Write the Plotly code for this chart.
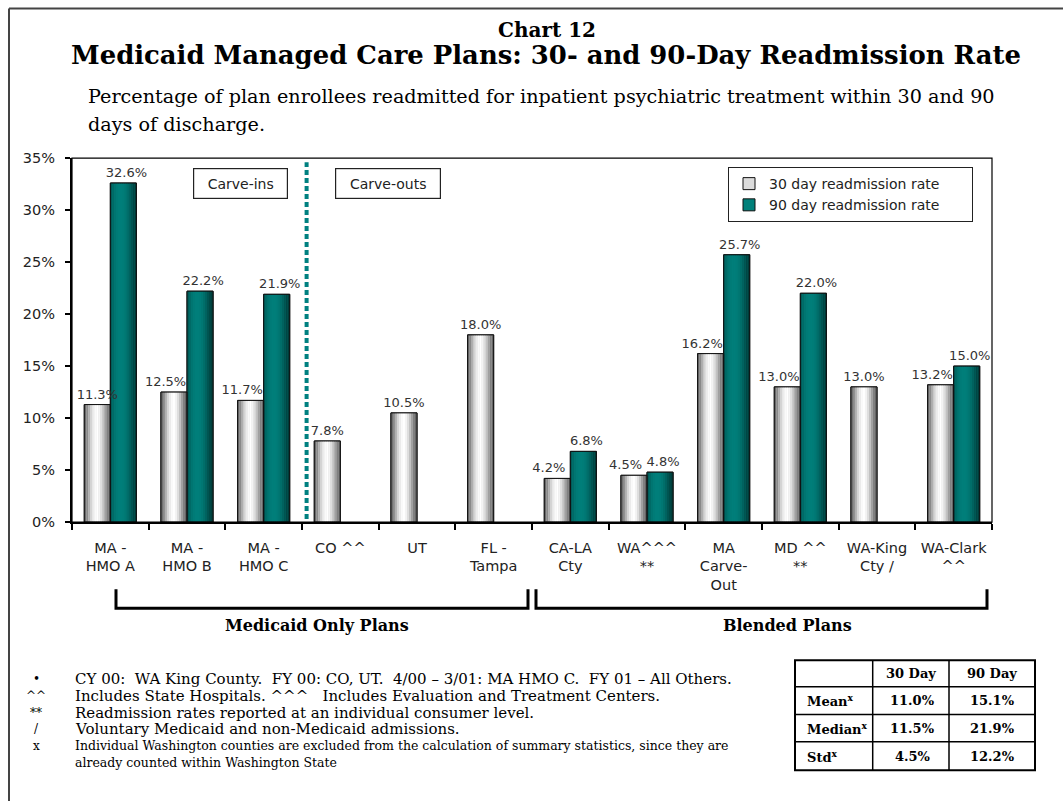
import plotly.graph_objects as go

# ---------------- data ----------------
categories = ["MA -<br>HMO A", "MA -<br>HMO B", "MA -<br>HMO C", "CO ^^", "UT",
              "FL -<br>Tampa", "CA-LA<br>Cty", "WA^^^<br>**", "MA<br>Carve-<br>Out",
              "MD ^^<br>**", "WA-King<br>Cty /", "WA-Clark<br>^^"]
rate_30 = [11.3, 12.5, 11.7, 7.8, 10.5, 18.0, 4.2, 4.5, 16.2, 13.0, 13.0, 13.2]
rate_90 = [32.6, 22.2, 21.9, None, None, None, 6.8, 4.8, 25.7, 22.0, None, 15.0]
series_names = ["30 day readmission rate", "90 day readmission rate"]
y_ticks = [0, 5, 10, 15, 20, 25, 30, 35]
y_tick_labels = ["0%", "5%", "10%", "15%", "20%", "25%", "30%", "35%"]

region_names = ["Carve-ins", "Carve-outs"]
group_names = ["Medicaid Only Plans", "Blended Plans"]

table_header = ["30 Day", "90 Day"]
stat_names = ["Mean", "Median", "Std"]
stat_30 = ["11.0%", "11.5%", "4.5%"]
stat_90 = ["15.1%", "21.9%", "12.2%"]

footnote_symbols = ["•", "^^", "**", "/", "x", ""]
footnote_texts = [
    "CY 00:\u00a0 WA King County.\u00a0 FY 00: CO, UT.\u00a0 4/00 – 3/01: MA HMO C.\u00a0 FY 01 – All Others.",
    "Includes State Hospitals. ^^^\u00a0\u00a0 Includes Evaluation and Treatment Centers.",
    "Readmission rates reported at an individual consumer level.",
    "Voluntary Medicaid and non-Medicaid admissions.",
    "Individual Washington counties are excluded from the calculation of summary statistics, since they are",
    "already counted within Washington State",
]

# ---------------- styles ----------------
W, H = 1063, 809
def px(x):
    return x / W
def py(y):
    # screen-pixel target -> paper fraction (the capture places the figure at 8..801)
    return 1 - ((y - 8) / 0.98) / H

SANS = "DejaVu Sans, Verdana, sans-serif"
SERIF = "DejaVu Serif, Georgia, serif"
NB = "\u00a0"

BW = 0.34
# label nudges (category units): 30-day labels move left where a 90-day bar sits beside them
nudge_30 = [-0.11 if (w is not None and i > 0) else 0.0 for i, w in enumerate(rate_90)]
nudge_90 = [0.04 for w in rate_90]

grad_30 = ["#6a6a6a", "#8a8a8a", "#b0b0b0", "#d4d4d4", "#ececec", "#fafafa", "#ffffff",
           "#f3f3f3", "#dedede", "#c2c2c2", "#a0a0a0", "#808080", "#666666"]
grad_90 = ["#005c59", "#006a66", "#007571", "#007b77", "#007e7a", "#007e7a", "#007c78",
           "#007773", "#006e6a", "#00625f", "#005451", "#004644", "#003b39"]
series = [
    (rate_30, "#dcdcdc", grad_30, -BW, nudge_30),
    (rate_90, "#00807a", grad_90, 0.0, nudge_90),
]
LEG_PAD = NB * 6

fig = go.Figure()

for (vals, base, grad, off, nudge), name in zip(series, series_names):
    fig.add_trace(go.Bar(x=categories, y=vals, name=name + LEG_PAD, width=BW, offset=off,
                         marker=dict(color=base, line=dict(color="#111111", width=1)),
                         hoverinfo="skip"))
for (vals, base, grad, off, nudge), name in zip(series, series_names):
    n = len(grad)
    for k, c in enumerate(grad):
        fig.add_trace(go.Bar(x=categories, y=vals, width=BW / n, offset=off + k * BW / n,
                             marker=dict(color=c, line=dict(width=0)),
                             showlegend=False, hoverinfo="skip"))
for (vals, base, grad, off, nudge), name in zip(series, series_names):
    fig.add_trace(go.Bar(x=categories, y=vals, width=BW, offset=off,
                         marker=dict(color="rgba(0,0,0,0)", line=dict(color="#111111", width=1)),
                         showlegend=False,
                         hovertemplate=name + ": %{y:.1f}%<extra></extra>"))
# value labels
for (vals, base, grad, off, nudge), name in zip(series, series_names):
    fig.add_trace(go.Bar(x=categories, y=vals, width=BW, offset=[off + s for s in nudge],
                         marker=dict(color="rgba(0,0,0,0)", line=dict(width=0)),
                         texttemplate="%{y:.1f}%", textposition="outside", constraintext="none",
                         textfont=dict(family=SANS, size=13, color="#333333"),
                         cliponaxis=False, showlegend=False, hoverinfo="skip"))

fig.update_layout(
    width=W, height=H, margin=dict(l=0, r=0, t=0, b=0),
    paper_bgcolor="white", plot_bgcolor="white",
    barmode="overlay", showlegend=True,
    legend=dict(x=px(728), y=py(167), xanchor="left", yanchor="top",
                bordercolor="#222222", borderwidth=1, bgcolor="white",
                font=dict(family=SANS, size=14, color="#222222"),
                tracegroupgap=0, itemclick=False),
    xaxis=dict(domain=[px(72), px(992)], type="category", range=[-0.5, 11.5],
               showline=True, linecolor="black", linewidth=2,
               ticks="outside", tickson="boundaries", ticklen=6, tickwidth=1.5, tickcolor="black",
               ticklabelstandoff=11,
               tickfont=dict(family=SANS, size=14.5, color="#222222"),
               showgrid=False, fixedrange=True),
    yaxis=dict(domain=[py(522), py(158)], range=[0, 35], tickvals=y_ticks, ticktext=y_tick_labels,
               showline=True, linecolor="black", linewidth=2,
               ticks="outside", ticklen=5, tickwidth=1.5, tickcolor="black",
               ticklabelstandoff=7,
               tickfont=dict(family=SANS, size=14.5, color="#222222"),
               showgrid=False, zeroline=False, fixedrange=True),
)

shapes = []
# plot frame (thin top/right)
shapes.append(dict(type="rect", xref="x domain", yref="y domain", x0=0, x1=1, y0=0, y1=1,
                   line=dict(color="black", width=1.2), layer="above"))
# outer page frame
shapes.append(dict(type="line", xref="paper", yref="paper", x0=px(9), x1=px(9), y0=0.9995, y1=0,
                   line=dict(color="#444444", width=2)))
shapes.append(dict(type="line", xref="paper", yref="paper", x0=px(9), x1=1, y0=0.9995, y1=0.9995,
                   line=dict(color="#444444", width=2)))
# carve-in / carve-out divider
shapes.append(dict(type="line", xref="x", yref="y", x0=2.56, x1=2.56, y0=0.3, y1=34.6,
                   line=dict(color="#008080", width=4, dash="5px,3px")))
# brackets
for xl, xr in [(116, 528), (536, 987)]:
    shapes.append(dict(type="path", xref="paper", yref="paper",
                       path="M %f,%f L %f,%f L %f,%f L %f,%f" % (px(xl), py(589), px(xl), py(608),
                                                                 px(xr), py(608), px(xr), py(589)),
                       line=dict(color="black", width=3)))
# summary table grid
tx = [795, 872.7, 949, 1035]
ty = [660, 686.7, 714.3, 741.7, 770]
shapes.append(dict(type="rect", xref="paper", yref="paper", x0=px(tx[0]), x1=px(tx[-1]),
                   y0=py(ty[-1]), y1=py(ty[0]), line=dict(color="black", width=2)))
for xv in tx[1:-1]:
    shapes.append(dict(type="line", xref="paper", yref="paper", x0=px(xv), x1=px(xv),
                       y0=py(ty[-1]), y1=py(ty[0]), line=dict(color="black", width=1.5)))
for yv in ty[1:-1]:
    shapes.append(dict(type="line", xref="paper", yref="paper", x0=px(tx[0]), x1=px(tx[-1]),
                       y0=py(yv), y1=py(yv), line=dict(color="black", width=1.5)))
fig.update_layout(shapes=shapes)

ann = []
ann.append(dict(text="<b>Chart 12</b>", x=px(547), y=py(30), xref="paper", yref="paper",
                showarrow=False, xanchor="center", yanchor="middle",
                font=dict(family=SERIF, size=20, color="black")))
ann.append(dict(text="<b>Medicaid Managed Care Plans: 30- and 90-Day Readmission Rate</b>",
                x=px(546), y=py(55), xref="paper", yref="paper", showarrow=False,
                xanchor="center", yanchor="middle", font=dict(family=SERIF, size=25.9, color="black")))
sub_lines = ["Percentage of plan enrollees readmitted for inpatient psychiatric treatment within 30 and 90",
             "days of discharge."]
for i, t in enumerate(sub_lines):
    ann.append(dict(text=t, x=px(86), y=py(96 + 28.5 * i), xref="paper", yref="paper",
                    showarrow=False, xanchor="left", yanchor="middle",
                    font=dict(family=SERIF, size=19.2, color="black")))
# region labels
for name, cx, w in zip(region_names, [240, 388], [91, 102]):
    ann.append(dict(text=name, x=px(cx), y=py(183), xref="paper", yref="paper",
                    showarrow=False, xanchor="center", yanchor="middle", width=w, height=27,
                    bordercolor="#222222", borderwidth=1.2, borderpad=1, bgcolor="white",
                    font=dict(family=SANS, size=14, color="#222222")))
# group labels
for name, cx in zip(group_names, [317, 787]):
    ann.append(dict(text="<b>%s</b>" % name, x=px(cx), y=py(625), xref="paper", yref="paper",
                    showarrow=False, xanchor="center", yanchor="middle",
                    font=dict(family=SERIF, size=16, color="black")))
# footnotes
for i, (s, t) in enumerate(zip(footnote_symbols, footnote_texts)):
    yy = 679 + 16.7 * i
    if s:
        ann.append(dict(text=s, x=px(36), y=py(yy), xref="paper", yref="paper", showarrow=False,
                        xanchor="center", yanchor="middle",
                        font=dict(family=SERIF, size=12, color="black")))
    ann.append(dict(text=t, x=px(73), y=py(yy), xref="paper", yref="paper", showarrow=False,
                    xanchor="left", yanchor="middle",
                    font=dict(family=SERIF, size=15 if i < 4 else 12.5, color="black")))
# summary table text
cx1 = (tx[1] + tx[2]) / 2
cx2 = (tx[2] + tx[3]) / 2
for txt, cx in zip(table_header, [cx1, cx2]):
    ann.append(dict(text="<b>%s</b>" % txt, x=px(cx), y=py((ty[0] + ty[1]) / 2), xref="paper",
                    yref="paper", showarrow=False, xanchor="center", yanchor="middle",
                    font=dict(family=SERIF, size=13, color="black")))
for r, (nm, a, b) in enumerate(zip(stat_names, stat_30, stat_90)):
    yc = py((ty[r + 1] + ty[r + 2]) / 2)
    ann.append(dict(text="<b>%s<sup>x</sup></b>" % nm, x=px(805), y=yc, xref="paper", yref="paper",
                    showarrow=False, xanchor="left", yanchor="middle",
                    font=dict(family=SERIF, size=13, color="black")))
    ann.append(dict(text="<b>%s</b>" % a, x=px(cx1 + 2), y=yc, xref="paper", yref="paper",
                    showarrow=False, xanchor="center", yanchor="middle",
                    font=dict(family=SERIF, size=13, color="black")))
    ann.append(dict(text="<b>%s</b>" % b, x=px(cx2), y=yc, xref="paper", yref="paper",
                    showarrow=False, xanchor="center", yanchor="middle",
                    font=dict(family=SERIF, size=13, color="black")))
fig.update_layout(annotations=ann)

post = ("document.documentElement.style.margin='0px';"
        "document.body.style.margin='0px';"
        "document.documentElement.style.overflow='hidden';"
        "document.body.style.overflow='hidden';"
        "var gd=document.getElementById('{plot_id}');"
        "gd.style.position='absolute';gd.style.left='0px';gd.style.top='0px';")
fig.write_html("out.html", config={"displayModeBar": False}, post_script=post)
